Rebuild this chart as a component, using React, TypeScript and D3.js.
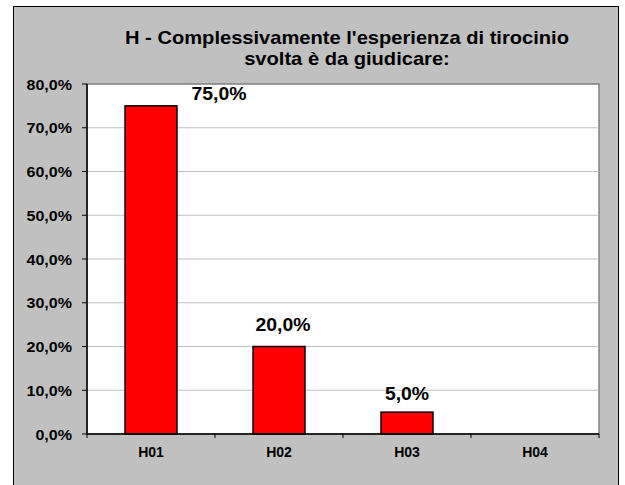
import React from "react";
import * as d3 from "d3";

const categories = ["H01", "H02", "H03", "H04"];
const values = [75, 20, 5, 0];
const yTicks = [0, 10, 20, 30, 40, 50, 60, 70, 80];
const titleLines = ["H - Complessivamente l'esperienza di tirocinio", "svolta è da giudicare:"];

const W = 625;
const H = 485;
const plot = { left: 87, right: 599, top: 84, bottom: 434 };
const FONT = "'Liberation Sans', Arial, Helvetica, sans-serif";
const fmt = (v: number) => v.toFixed(1).replace(".", ",") + "%";
// Excel-style label placement adjustments (dx, dy from bar top center)
const labelAdjust: Record<string, [number, number]> = {
  H01: [68, -6],
  H02: [4, -16],
  H03: [0, -12],
  H04: [0, -12],
};

export default function App() {
  const y = d3.scaleLinear().domain([0, 80]).range([plot.bottom, plot.top]);
  const xBand = d3
    .scaleBand<string>()
    .domain(categories)
    .range([plot.left, plot.right])
    .paddingInner(0.594)
    .paddingOuter(0.297);
  const xCell = d3.scaleBand<string>().domain(categories).range([plot.left, plot.right]).padding(0);
  const boundaries = [...categories.map((c) => xCell(c)!), plot.right];
  const centerX = (plot.left + plot.right) / 2 + 4;

  return (
    <svg width={W} height={H} style={{ position: "absolute", left: 0, top: 0 }} fontFamily={FONT}>
      <rect x={0} y={0} width={W} height={H} fill="#ffffff" />
      <rect x={13.5} y={6.5} width={605} height={490} fill="#c0c0c0" stroke="#000" strokeWidth={1} />
      {titleLines.map((t, i) => (
        <text
          key={i}
          transform={`translate(${centerX},${44 + i * 21}) scale(1.15,1)`}
          textAnchor="middle"
          fontSize={17.5}
          fontWeight="bold"
          fill="#000"
        >
          {t}
        </text>
      ))}
      <rect
        x={plot.left}
        y={plot.top}
        width={plot.right - plot.left}
        height={plot.bottom - plot.top}
        fill="#fff"
        stroke="#808080"
        strokeWidth={1.5}
      />
      {yTicks.map((t) => (
        <g key={t}>
          {t > 0 && t < 80 && (
            <line x1={plot.left} x2={plot.right} y1={y(t)} y2={y(t)} stroke="#c0c0c0" strokeWidth={1} />
          )}
          <line x1={plot.left - 5} x2={plot.left} y1={y(t)} y2={y(t)} stroke="#000" strokeWidth={1} />
          <text
            transform={`translate(72,${y(t) + 5.5}) scale(1.07,1)`}
            textAnchor="end"
            fontSize={15}
            fontWeight="bold"
            fill="#000"
          >
            {fmt(t)}
          </text>
        </g>
      ))}
      {categories.map((c, i) => {
        const v = values[i];
        const x0 = xBand(c)!;
        const bw = xBand.bandwidth();
        return (
          <g key={c}>
            {v > 0 && (
              <rect x={x0} y={y(v)} width={bw} height={y(0) - y(v)} fill="#ff0000" stroke="#000" strokeWidth={1.5} />
            )}
            {v > 0 && (
              <text
                transform={`translate(${x0 + bw / 2 + labelAdjust[c][0]},${y(v) + labelAdjust[c][1]}) scale(1.05,1)`}
                textAnchor="middle"
                fontSize={18.5}
                fontWeight="bold"
                fill="#000"
              >
                {fmt(v)}
              </text>
            )}
            <text
              x={xCell(c)! + xCell.bandwidth() / 2}
              y={457}
              textAnchor="middle"
              fontSize={14}
              fontWeight="bold"
              fill="#000"
            >
              {c}
            </text>
          </g>
        );
      })}
      <line x1={plot.left} x2={plot.left} y1={plot.top} y2={plot.bottom} stroke="#000" strokeWidth={1.5} />
      <line x1={plot.left} x2={plot.right} y1={plot.bottom} y2={plot.bottom} stroke="#000" strokeWidth={1.5} />
      {boundaries.map((b, i) => (
        <line key={i} x1={b} x2={b} y1={plot.bottom} y2={plot.bottom + 4} stroke="#000" strokeWidth={1} />
      ))}
    </svg>
  );
}
